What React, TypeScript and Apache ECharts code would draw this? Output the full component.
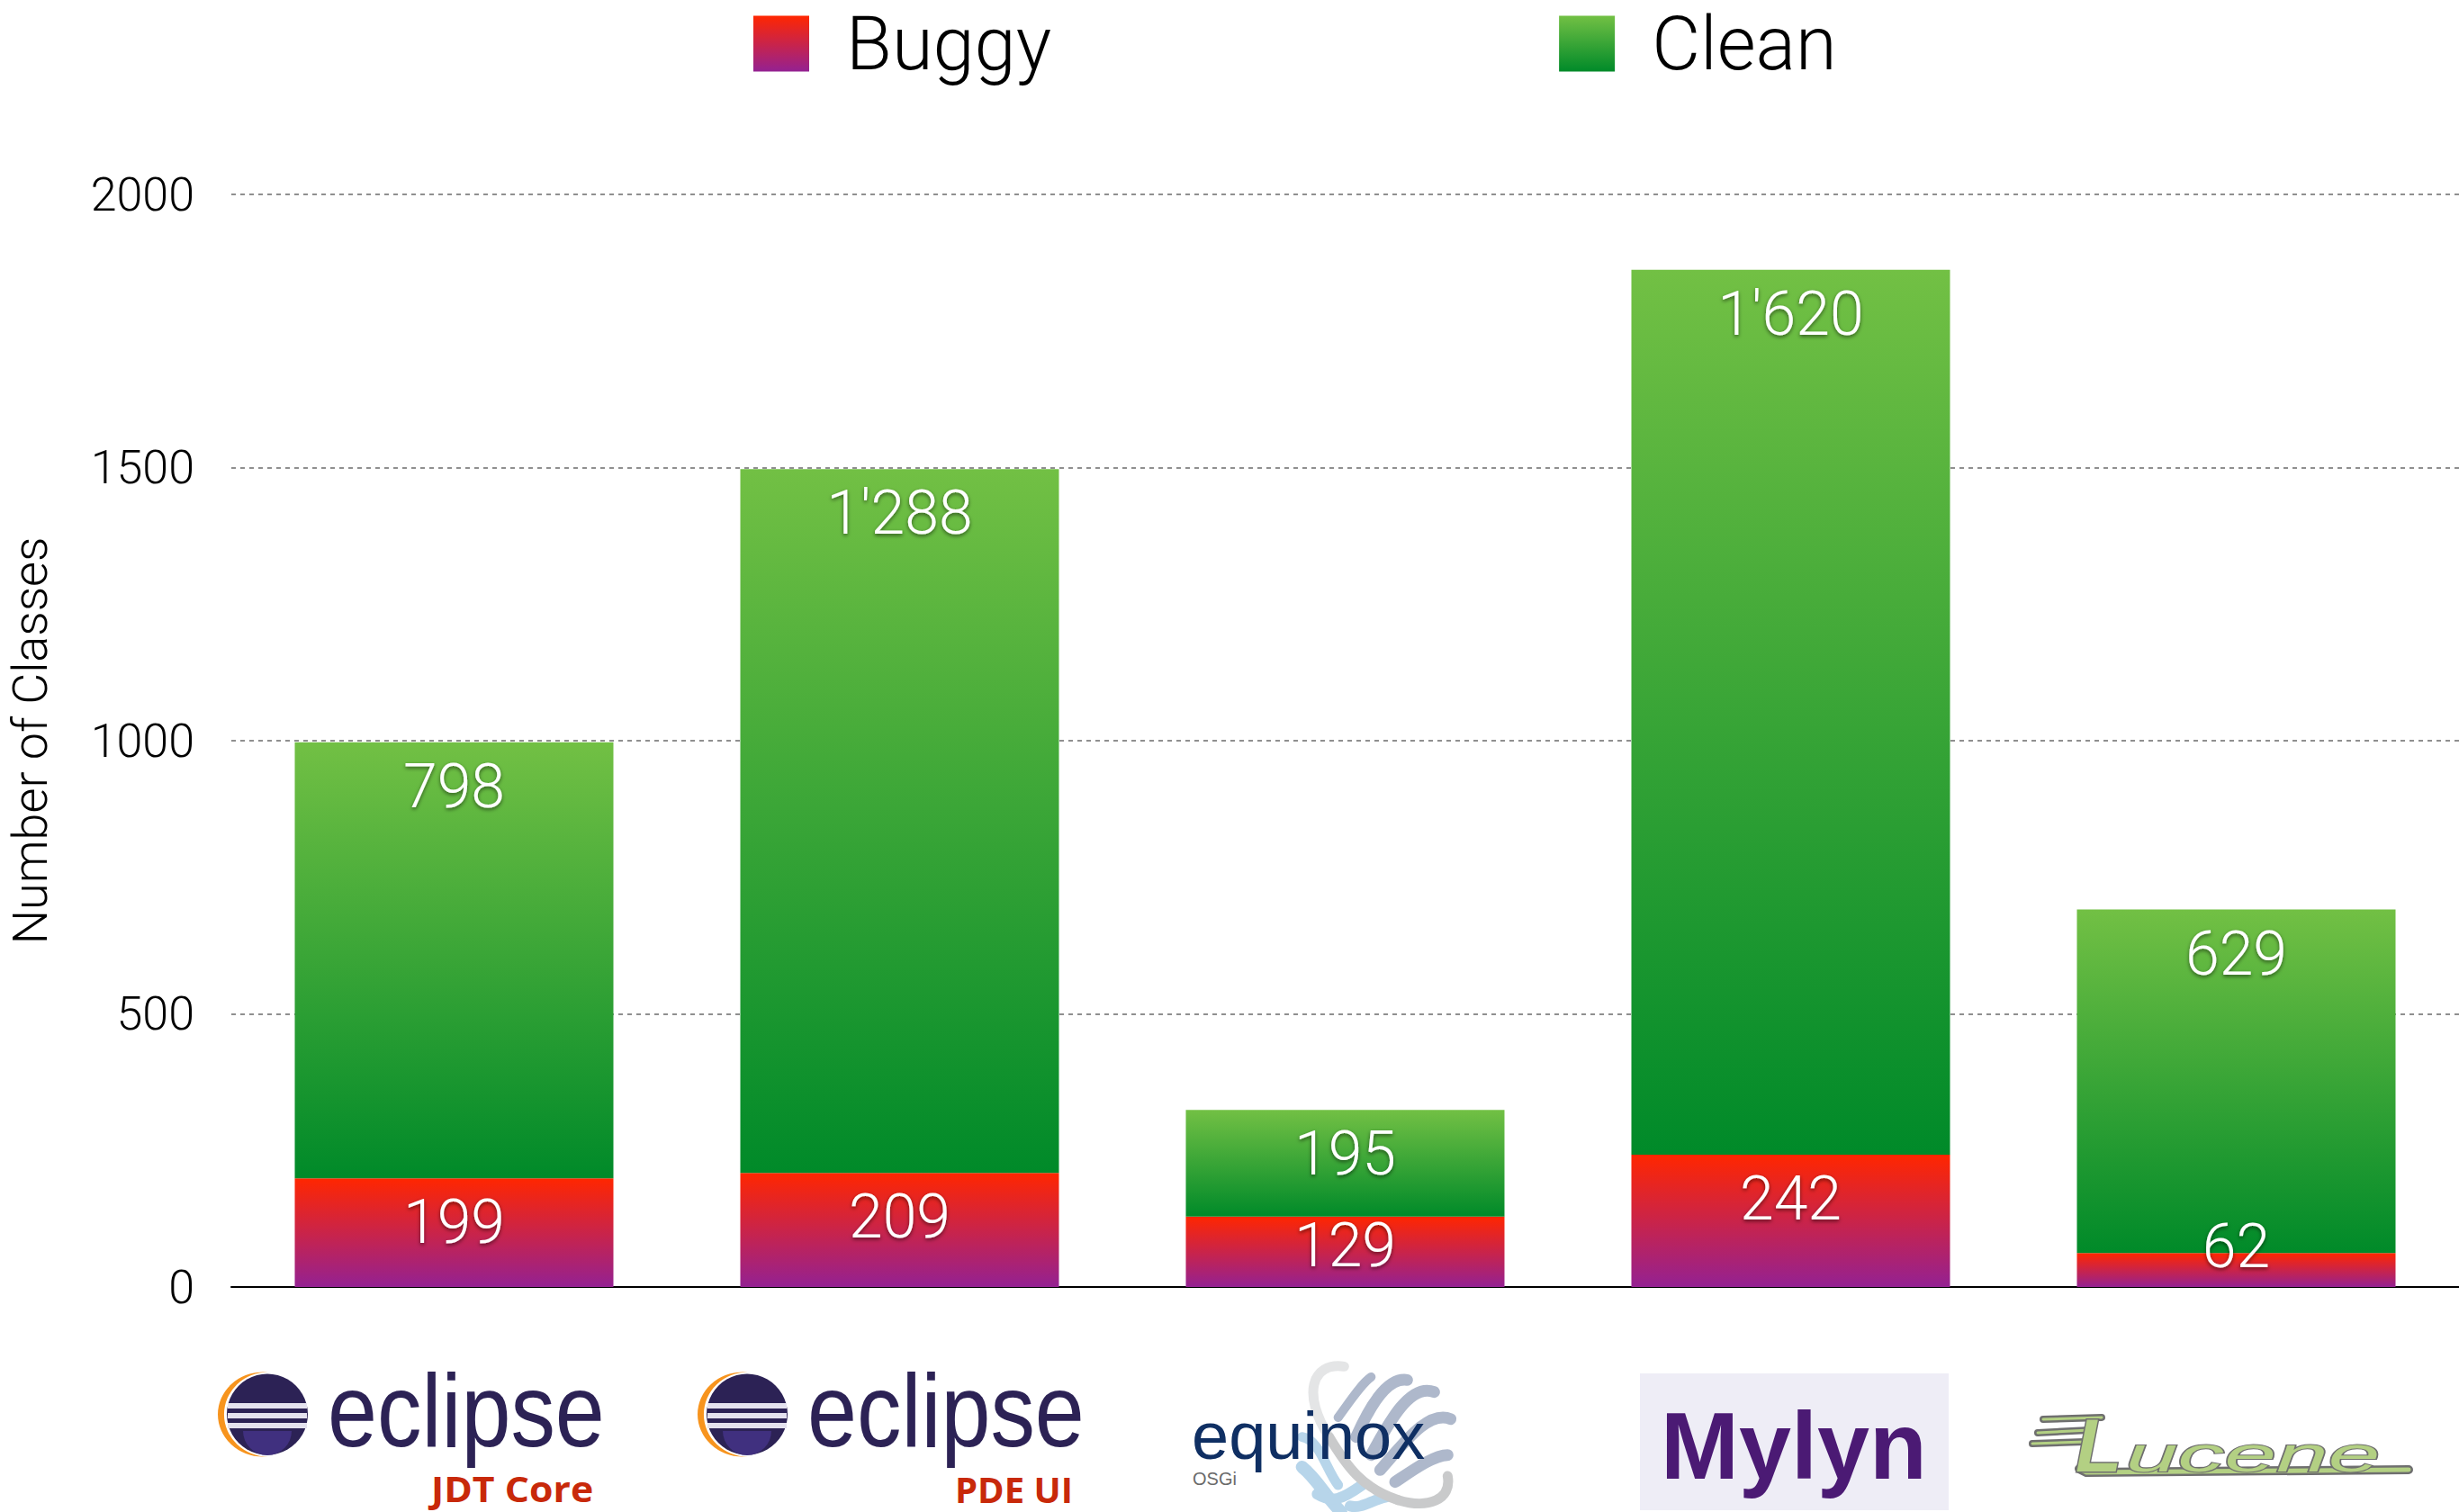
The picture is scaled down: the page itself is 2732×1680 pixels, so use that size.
import React, { useEffect, useRef } from "react";
import * as echarts from "echarts";

const categories = ["JDT Core", "PDE UI", "Equinox", "Mylyn", "Lucene"];
const buggy = [199, 209, 129, 242, 62];
const clean = [798, 1288, 195, 1620, 629];
const buggyLabelOffsets = [0, 0, -17, 0, -56];
const yTicks = { min: 0, max: 2000, interval: 500 };

const W = 2732;
const H = 1680;
const LIGHT = "Roboto, 'Liberation Sans', sans-serif";
const ARIAL = "'Liberation Sans', Arial, sans-serif";

const vgrad = (a: string, b: string) =>
  new echarts.graphic.LinearGradient(0, 0, 0, 1, [
    { offset: 0, color: a },
    { offset: 1, color: b },
  ]);

const fmt = (v: number) => String(v).replace(/(\d)(\d{3})$/, "$1'$2");

echarts.graphic.registerShape(
  "eclipseCrescent",
  echarts.graphic.extendPath(
    "M 44 0 A 50 47 0 0 0 44 94 L 50 94 A 48 46 0 0 1 50 0 Z",
    {}
  )
);

function txt(
  text: string,
  x: number,
  y: number,
  size: number,
  fill: string,
  o: any = {}
) {
  return {
    type: "text",
    x,
    y,
    scaleX: o.scaleX ?? 1,
    scaleY: o.scaleY ?? 1,
    style: {
      text,
      x: 0,
      y: 0,
      fill,
      fontSize: size,
      fontFamily: o.family ?? ARIAL,
      fontWeight: o.weight ?? "normal",
      fontStyle: o.style ?? "normal",
      textAlign: o.align ?? "left",
      textVerticalAlign: "middle",
      verticalAlign: "middle",
      stroke: o.stroke,
      lineWidth: o.lineWidth,
    },
  };
}

function eclipse(dx: number, label: string, labelX: number, labelScale: number) {
  const stripes = [1559, 1570, 1581];
  return [
    { type: "circle", shape: { cx: 297 + dx, cy: 1571.5, r: 45 }, style: { fill: "#2c2255" } },
    {
      type: "sector",
      shape: { cx: 297 + dx, cy: 1590, r0: 0, r: 27, startAngle: 0, endAngle: Math.PI },
      style: { fill: "#40307f" },
    },
    ...stripes.map((y) => ({
      type: "rect",
      shape: { x: 253 + dx, y, width: 88, height: 6 },
      style: { fill: "#e4e2ee" },
    })),
    { type: "eclipseCrescent", x: 248 + dx, y: 1524.5, style: { fill: "#f7941e" } },
    txt("eclipse", 364 + dx, 1567, 115, "#2c2255", { scaleX: 0.86 }),
    txt(label, labelX, 1654, 40, "#c8290a", {
      family: "'Open Sans', sans-serif",
      weight: 700,
      scaleX: labelScale,
    }),
  ];
}

function bez(p: number[], stroke: string, lineWidth: number) {
  const [x1, y1, cpx1, cpy1, cpx2, cpy2, x2, y2] = p;
  return {
    type: "bezierCurve",
    shape: {
      x1: 1300 + x1 / 3,
      y1: 1500 + y1 / 3,
      cpx1: 1300 + cpx1 / 3,
      cpy1: 1500 + cpy1 / 3,
      cpx2: 1300 + cpx2 / 3,
      cpy2: 1500 + cpy2 / 3,
      x2: 1300 + x2 / 3,
      y2: 1500 + y2 / 3,
    },
    style: { stroke, lineWidth, fill: "none", lineCap: "round" },
  };
}

function equinox() {
  const fin = "#aeb8cb";
  const sky = "#b7d5ea";
  return [
    bez([440, 290, 500, 300, 520, 400, 560, 450], sky, 11),
    bez([440, 390, 490, 430, 520, 490, 570, 540], sky, 14),
    bez([490, 480, 540, 510, 570, 500, 640, 450], sky, 12),
    bez([600, 520, 640, 530, 670, 500, 720, 490], sky, 12),
    bez([670, 90, 640, 110, 600, 170, 560, 225], fin, 10),
    bez([790, 100, 720, 90, 660, 200, 620, 290], fin, 13),
    bez([880, 140, 800, 110, 730, 240, 670, 350], fin, 13),
    bez([935, 230, 860, 200, 780, 310, 700, 400], fin, 13),
    bez([925, 350, 880, 350, 810, 400, 750, 440], fin, 13),
    bez([580, 55, 470, 40, 440, 150, 530, 290], "#e4e5e6", 11),
    bez([530, 290, 590, 390, 640, 460, 760, 500], "#c9cacb", 11),
    bez([760, 500, 860, 530, 940, 500, 925, 420], "#c9cacb", 11),
    txt("equinox", 1324, 1595, 74, "#0f2f63", {}),
    txt("OSGi", 1325, 1643, 20, "#6a6a6a", {}),
  ];
}

function lucene() {
  const dk = "#6f6f6f";
  const gr = "#b3d083";
  const stroke = (points: number[][], a: string, w: number) => ({
    type: "polyline",
    shape: { points },
    style: { stroke: a, lineWidth: w, fill: "none", lineCap: "round", lineJoin: "round" },
  });
  const wings = [
    [[2270, 1577], [2335, 1575]],
    [[2264, 1592], [2322, 1589]],
    [[2258, 1604], [2316, 1602]],
  ];
  const base = [[2310, 1632], [2318, 1636], [2676, 1633]];
  return [
    ...wings.map((w) => stroke(w, dk, 8)),
    ...wings.map((w) => stroke(w, gr, 3)),
    stroke(base, dk, 10),
    stroke(base, gr, 5),
    txt("L", 2306, 1606, 84, gr, { style: "italic", stroke: dk, lineWidth: 3, weight: 700 }),
    txt("ucene", 2362, 1616, 56, gr, { style: "italic", stroke: dk, lineWidth: 2, scaleX: 1.85 }),
  ];
}

const logos = [
  ...eclipse(0, "JDT Core", 479, 1.07),
  ...eclipse(533, "PDE UI", 1061, 1),
  ...equinox(),
  { type: "rect", shape: { x: 1822, y: 1526, width: 343, height: 152 }, style: { fill: "#eeedf6" } },
  txt("Mylyn", 1845, 1606, 106, "#4b1a74", { weight: 700, scaleX: 0.985 }),
  ...lucene(),
];

const barLabel = {
  show: true,
  position: "insideTop" as const,
  distance: 15,
  color: "#fff",
  fontFamily: LIGHT,
  fontWeight: 300,
  fontSize: 68,
  textShadowColor: "rgba(0,0,0,0.55)",
  textShadowBlur: 4,
  textShadowOffsetY: 2,
  formatter: (p: any) => fmt(p.value),
};

export default function App() {
  const ref = useRef<HTMLDivElement>(null);
  useEffect(() => {
    const chart = echarts.init(ref.current!, null, { renderer: "svg" });
    chart.setOption({
      animation: false,
      backgroundColor: "#fff",
      legend: {
        left: 837,
        top: 7,
        padding: 0,
        icon: "rect",
        selectedMode: false,
        itemWidth: 62,
        itemHeight: 62,
        itemGap: 564,
        textStyle: {
          fontFamily: LIGHT,
          fontWeight: 300,
          fontSize: 83,
          color: "#000",
          padding: [0, 0, 0, 36],
        },
        data: ["Buggy", "Clean"],
      },
      grid: { left: 257, right: 0, top: 216, bottom: H - 1430, outerBoundsMode: "none" },
      xAxis: {
        type: "category",
        data: categories,
        axisLine: { lineStyle: { color: "#000", width: 2 } },
        axisTick: { show: false },
        axisLabel: { show: false },
      },
      yAxis: {
        type: "value",
        ...yTicks,
        name: "Number of Classes",
        nameLocation: "middle",
        nameRotate: 90,
        nameGap: 197,
        nameTextStyle: { fontFamily: LIGHT, fontWeight: 300, fontSize: 54, color: "#000" },
        axisLine: { show: false },
        axisTick: { show: false },
        axisLabel: {
          margin: 41,
          padding: [8, 0, 0, 0],
          fontFamily: LIGHT,
          fontWeight: 300,
          fontSize: 52,
          color: "#000",
          formatter: (v: number) => String(v),
        },
        splitLine: { lineStyle: { color: "#8f8f8f", width: 2, type: [5, 5] } },
      },
      series: [
        {
          name: "Buggy",
          type: "bar",
          stack: "t",
          barWidth: 354,
          itemStyle: { color: vgrad("#ff2600", "#942192") },
          label: barLabel,
          data: buggy.map((value, i) => ({
            value,
            label: { offset: [0, buggyLabelOffsets[i]] },
          })),
        },
        {
          name: "Clean",
          type: "bar",
          stack: "t",
          barWidth: 354,
          itemStyle: { color: vgrad("#72c044", "#008a29") },
          label: barLabel,
          data: clean,
        },
      ],
      graphic: { elements: logos },
    });
    return () => chart.dispose();
  }, []);
  return (
    <div
      ref={ref}
      style={{ position: "absolute", left: 0, top: 0, width: W, height: H }}
    />
  );
}
